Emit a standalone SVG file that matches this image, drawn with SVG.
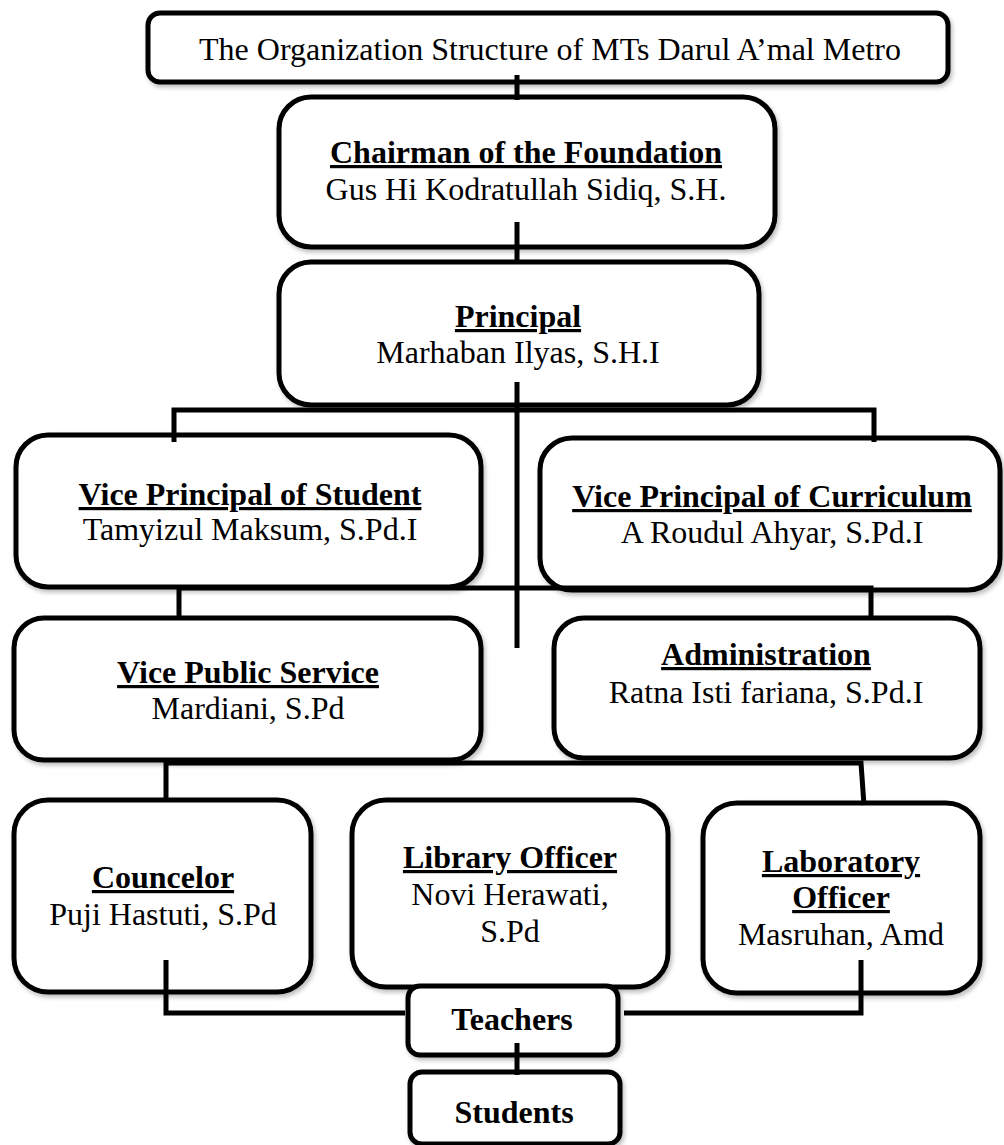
<svg xmlns="http://www.w3.org/2000/svg" width="1004" height="1145" viewBox="0 0 1004 1145">
<defs>
<filter id="sh" x="-5%" y="-5%" width="115%" height="120%">
<feDropShadow dx="2" dy="3" stdDeviation="2" flood-color="#000" flood-opacity="0.25"/>
</filter>
</defs>
<style>
.box{fill:#fff;stroke:#000;stroke-width:5;filter:url(#sh)}
.t{font-family:"Liberation Serif","Times New Roman",serif;font-size:32px;fill:#000;text-anchor:middle}
.b{font-weight:bold;text-decoration:underline}
.bn{font-weight:bold}
.c{stroke:#000;stroke-width:5;fill:none}
</style>
<rect width="1004" height="1145" fill="#fff"/>
<g id="title"><rect class="box" x="148" y="13" width="800" height="69" rx="12"/><text class="t" x="550" y="60">The Organization Structure of MTs Darul A’mal Metro</text></g>
<g id="chairman"><rect class="box" x="279" y="97" width="496" height="150" rx="32"/><text class="t b" x="526" y="163">Chairman of the Foundation</text><text class="t" x="526" y="200">Gus Hi Kodratullah Sidiq, S.H.</text></g>
<g id="principal"><rect class="box" x="279" y="262" width="480" height="143" rx="32"/><text class="t b" x="518" y="327">Principal</text><text class="t" x="518" y="363">Marhaban Ilyas, S.H.I</text></g>
<g id="vp-student"><rect class="box" x="16" y="435" width="465" height="152" rx="32"/><text class="t b" x="250" y="505">Vice Principal of Student</text><text class="t" x="250" y="540">Tamyizul Maksum, S.Pd.I</text></g>
<g id="vp-curriculum"><rect class="box" x="540" y="438" width="460" height="152" rx="32"/><text class="t b" x="772" y="507">Vice Principal of Curriculum</text><text class="t" x="772" y="543">A Roudul Ahyar, S.Pd.I</text></g>
<g id="vice-public"><rect class="box" x="14" y="618" width="467" height="142" rx="30"/><text class="t b" x="248" y="683">Vice Public Service</text><text class="t" x="248" y="719">Mardiani, S.Pd</text></g>
<g id="administration"><rect class="box" x="554" y="618" width="426" height="140" rx="30"/><text class="t b" x="766" y="665">Administration</text><text class="t" x="766" y="703">Ratna Isti fariana, S.Pd.I</text></g>
<g id="councelor"><rect class="box" x="14" y="800" width="297" height="192" rx="34"/><text class="t b" x="163" y="888">Councelor</text><text class="t" x="163" y="925">Puji Hastuti, S.Pd</text></g>
<g id="library"><rect class="box" x="352" y="800" width="316" height="187" rx="34"/><text class="t b" x="510" y="868">Library Officer</text><text class="t" x="510" y="905">Novi Herawati,</text><text class="t" x="510" y="942">S.Pd</text></g>
<g id="laboratory"><rect class="box" x="703" y="803" width="277" height="190" rx="34"/><text class="t b" x="841" y="872">Laboratory</text><text class="t b" x="841" y="908">Officer</text><text class="t" x="841" y="945">Masruhan, Amd</text></g>
<g id="teachers"><rect class="box" x="408" y="986" width="210" height="69" rx="12"/><text class="t bn" x="512" y="1030">Teachers</text></g>
<g id="students"><rect class="box" x="410" y="1072" width="210" height="72" rx="12"/><text class="t bn" x="514" y="1123">Students</text></g>
<g id="connectors">
<path class="c" d="M517 75V100"/>
<path class="c" d="M517 222V264"/>
<path class="c" d="M517 382V648"/>
<path class="c" d="M174 442V410H874V442"/>
<path class="c" d="M179 617V588H871V617"/>
<path class="c" d="M166 798V763H861L864 805"/>
<path class="c" d="M166 960V1013H405"/>
<path class="c" d="M861 960V1013H624"/>
<path class="c" d="M517 1043V1075"/>
</g>
</svg>
